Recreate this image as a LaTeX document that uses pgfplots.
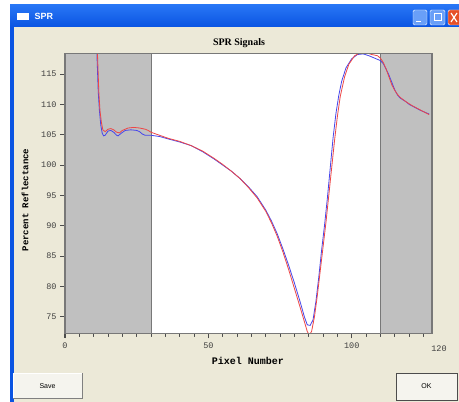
\documentclass[border=0pt]{standalone}
\usepackage{fontspec}
\setmainfont{Liberation Sans}
\newfontfamily\monofont{Liberation Mono}
\newfontfamily\seriffont{Liberation Serif}
\usepackage{pgfplots}
\pgfplotsset{compat=1.18}
\definecolor{winbg}{RGB}{236,233,216}
\definecolor{xpblue}{RGB}{10,84,226}
\definecolor{xptop}{RGB}{40,118,245}
\definecolor{xpclose}{RGB}{230,80,40}
\definecolor{btnface}{RGB}{245,244,238}
\definecolor{bandgray}{RGB}{192,192,192}
\definecolor{framegray}{RGB}{120,120,120}
\definecolor{sigblue}{RGB}{70,70,235}
\definecolor{sigred}{RGB}{238,70,70}

\begin{document}
\begin{tikzpicture}
\begin{scope}[x=1pt,y=1pt]
\useasboundingbox (0,0) rectangle (459,402);
\fill[white] (0,0) rectangle (459,402);
% window body
\fill[xpblue] (10,0) rectangle (14,397);
\fill[winbg] (14,0) rectangle (459,375);
% title bar
\shade[top color=xptop, bottom color=xpblue] (10,375) rectangle (459,397);
\fill[white] (17,382) rectangle (29,389);
\node[anchor=west, text=white, font=\bfseries\fontsize{9}{9}\selectfont] at (31,386) {SPR};
% title bar buttons
\fill[xptop!70!white, draw=white, rounded corners=1.5pt] (413,377) rectangle (427,392);
\draw[white, line width=1pt] (416,380) -- (421,380);
\fill[xptop!70!white, draw=white, rounded corners=1.5pt] (430,377) rectangle (445,392);
\draw[white, line width=1pt] (434,381) rectangle (441,388);
\fill[xpclose, draw=white, rounded corners=1.5pt] (448,377) rectangle (462,392);
\draw[white, line width=1.2pt] (451,380) -- (457,389) (451,389) -- (457,380);
% chart title
\node[font=\seriffont\bfseries\fontsize{10}{10}\selectfont] at (239,359) {SPR Signals};
% bottom buttons
\fill[btnface] (13,4) rectangle (82,29);
\draw[white] (13,4) -- (13,29) -- (82,29);
\draw[gray] (13,4) -- (82,4) -- (82,29);
\node[font=\fontsize{7}{7}\selectfont] at (47.5,16) {Save};
\fill[btnface] (396,2) rectangle (457,29);
\draw[black!70, line width=0.8pt] (396,2) rectangle (457,29);
\node[font=\fontsize{7}{7}\selectfont] at (426.5,16) {OK};
\end{scope}

\begin{axis}[
    at={(65pt,68.7pt)}, anchor=south west,
    scale only axis, width=367pt, height=280pt,
    xmin=0, xmax=128, ymin=72.3, ymax=118.4,
    axis on top, clip mode=individual,
    axis background/.style={fill=white},
    axis line style={framegray, line width=1.4pt},
    tick align=outside,
    xtick pos=left, ytick pos=left,
    xtick={0,50,100},
    minor xtick={5,10,...,125},
    ytick={75,80,...,115},
    major tick length=5pt, minor tick length=3pt,
    every tick/.style={draw=black!70, line width=0.8pt},
    /pgf/number format/assume math mode=true,
    ticklabel style={font=\monofont\fontsize{8.5}{8.5}\selectfont, text=black!75},
    xticklabel style={yshift=-1pt},
]
\fill[bandgray] (axis cs:0,72.3) rectangle (axis cs:30,118.4);
\fill[bandgray] (axis cs:110,72.3) rectangle (axis cs:128,118.4);
\draw[framegray, line width=0.8pt] (axis cs:30,72.3) -- (axis cs:30,118.4);
\draw[framegray, line width=0.8pt] (axis cs:110,72.3) -- (axis cs:110,118.4);
% tick marks along the frame, both ends in axis units
\pgfplotsinvokeforeach{5,10,15,20,25,30,35,40,45,55,60,65,70,75,80,85,90,95,105,110,115,120,125}{
  \draw[black!65, line width=0.7pt] (axis cs:#1,72.3) -- (axis cs:#1,71.75);
}
\pgfplotsinvokeforeach{0,50,100}{
  \draw[black!70, line width=1.2pt] (axis cs:#1,72.3) -- (axis cs:#1,71.45);
}
\pgfplotsinvokeforeach{75,80,85,90,95,100,105,110,115}{
  \draw[black!70, line width=0.8pt] (axis cs:0,#1) -- (axis cs:-1.6,#1);
}

\addplot[sigblue, line width=0.8pt] coordinates {
(11,120) (11.3,116) (11.6,112) (12,109) (12.5,106.5) (13,105.2) (13.5,104.8)
(14,104.9) (15,105.6) (16,105.7) (17,105.4) (18,104.9) (18.5,104.8) (19.5,105.2)
(21,105.7) (23,105.8) (25,105.7) (26,105.5) (27,105.1) (28,104.9) (30,104.9)
(33,104.7) (36,104.3) (40,103.8) (44,103.2) (48,102.2) (52,101.0) (55,100.0)
(58,99.0) (61,97.8) (64,96.4) (67,94.8) (70,92.6) (72,90.8) (74,88.7) (76,86.2)
(78,83.5) (80,80.6) (82,77.5) (83.5,75.0) (84.5,73.7) (85.5,73.6) (86.5,74.5)
(87.5,77.5) (88.5,81.5) (89.5,86) (90.5,90) (91.5,94.5) (92.5,99.5) (93.5,104.5)
(94.5,108.5) (95.5,111.5) (96.5,113.8) (98,116) (100,117.5) (102,118.2) (104,118.3)
(106,118.0) (108,117.6) (110,117.2) (111,116.7) (112,115.8) (113,114.8) (114,113.6)
(115,112.4) (116,111.5) (117,111.0) (118,110.7) (119,110.4) (120,110.0) (122,109.5)
(124,109.0) (126,108.6) (127,108.4)
};
\addplot[sigred, line width=0.8pt] coordinates {
(11.2,120) (11.5,116) (11.8,112) (12.2,109) (12.7,107) (13.2,105.8) (14,105.5)
(15,105.9) (16,106.0) (17,105.8) (18,105.4) (19,105.3) (20,105.7) (22,106.1)
(24,106.2) (26,106.1) (28,105.9) (29,105.7) (30,105.4) (33,104.9) (36,104.4)
(40,103.9) (44,103.2) (48,102.3) (52,101.1) (55,100.1) (58,99.0) (61,97.8)
(64,96.3) (67,94.6) (70,92.4) (72,90.5) (74,88.3) (76,85.7) (78,82.8) (80,79.7)
(82,76.6) (83.5,74.2) (84.5,72.6) (85.2,72.0) (86,72.6) (87,75) (88,78.5)
(89,82.5) (90,86.5) (91,90.5) (92,95) (93,99.5) (94,104) (95,108) (96,111.3)
(97.5,114.5) (99,116.6) (101,118.0) (103,118.5) (105,118.5) (107,118.2) (109,118.0)
(110,117.6) (111,116.9) (112,115.8) (113,114.5) (114,113.2) (115,112.3) (116,111.6)
(117,111.1) (119,110.4) (121,109.8) (123,109.3) (125,108.8) (127,108.3)
};
\end{axis}
\begin{scope}[x=1pt,y=1pt]
% end label and axis labels
\node[font=\monofont\fontsize{8.5}{8.5}\selectfont, text=black!75] at (439,53) {120};
\node[font=\monofont\bfseries\fontsize{10}{10}\selectfont] at (248,41.5) {Pixel Number};
\node[rotate=90, font=\monofont\bfseries\fontsize{9}{9}\selectfont] at (25,202) {Percent Reflectance};
\end{scope}
\end{tikzpicture}
\end{document}
